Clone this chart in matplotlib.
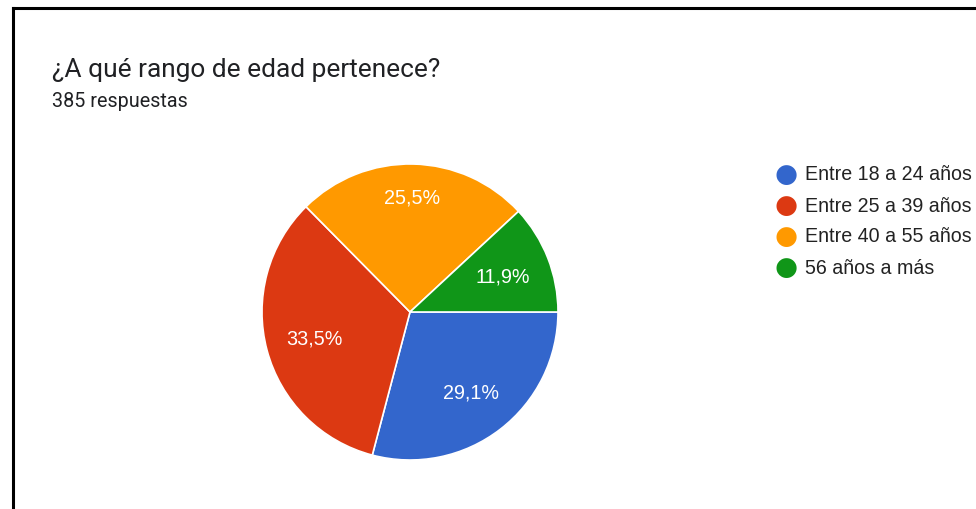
import matplotlib.pyplot as plt
import numpy as np

plt.rcParams['font.family'] = ['Roboto', 'DejaVu Sans']

categories = ["Entre 18 a 24 años", "Entre 25 a 39 años", "Entre 40 a 55 años", "56 años a más"]
shares = [29.1, 33.5, 25.5, 11.9]
colors = ["#3366cc", "#dc3912", "#ff9900", "#109618"]
label_dist = [0.68, 0.67, 0.78, 0.67]

chart_font = ['Liberation Sans', 'DejaVu Sans']

fig = plt.figure(figsize=(9.76, 5.10), dpi=100)

# frame around the card
fig.add_artist(plt.Line2D([13 / 976, 13 / 976], [0, 1 - 9 / 510], color="black", lw=2.2))
fig.add_artist(plt.Line2D([13 / 976, 1], [1 - 9 / 510, 1 - 9 / 510], color="black", lw=2.2))

fig.text(52 / 976, 1 - 70 / 510, "¿A qué rango de edad pertenece?", fontsize=18.9,
         color="#202124", va="center", ha="left")
fig.text(52 / 976, 1 - 102 / 510, "385 respuestas", fontsize=14.2,
         color="#202124", va="center", ha="left")

cx, cy, r = 410, 313, 148
box = 150
ax = fig.add_axes([(cx - box) / 976, (510 - cy - box) / 510, 2 * box / 976, 2 * box / 510])
wedges, _ = ax.pie(shares, colors=colors, startangle=0, counterclock=False,
                   radius=r / box, wedgeprops=dict(edgecolor="white", linewidth=1.2))
ax.set_xlim(-1, 1)
ax.set_ylim(-1, 1)
ax.set_aspect("equal")
ax.axis("off")

for w, val, d in zip(wedges, shares, label_dist):
    mid = np.deg2rad((w.theta1 + w.theta2) / 2)
    rr = d * r / box
    ax.text(rr * np.cos(mid), rr * np.sin(mid), f"{val:.1f}%".replace(".", ","),
            ha="center", va="center", color="white", fontsize=14.2, family=chart_font)

# legend
for i, (cat, col) in enumerate(zip(categories, colors)):
    y = 1 - (175 + 31 * i) / 510
    fig.text(786 / 976, y, "●", color=col, fontsize=19, ha="center", va="center",
             family=['DejaVu Sans'])
    fig.text(805 / 976, y, cat, color="#222222", fontsize=14.1, ha="left", va="center",
             family=chart_font)

fig.savefig("out.png", dpi=100)
